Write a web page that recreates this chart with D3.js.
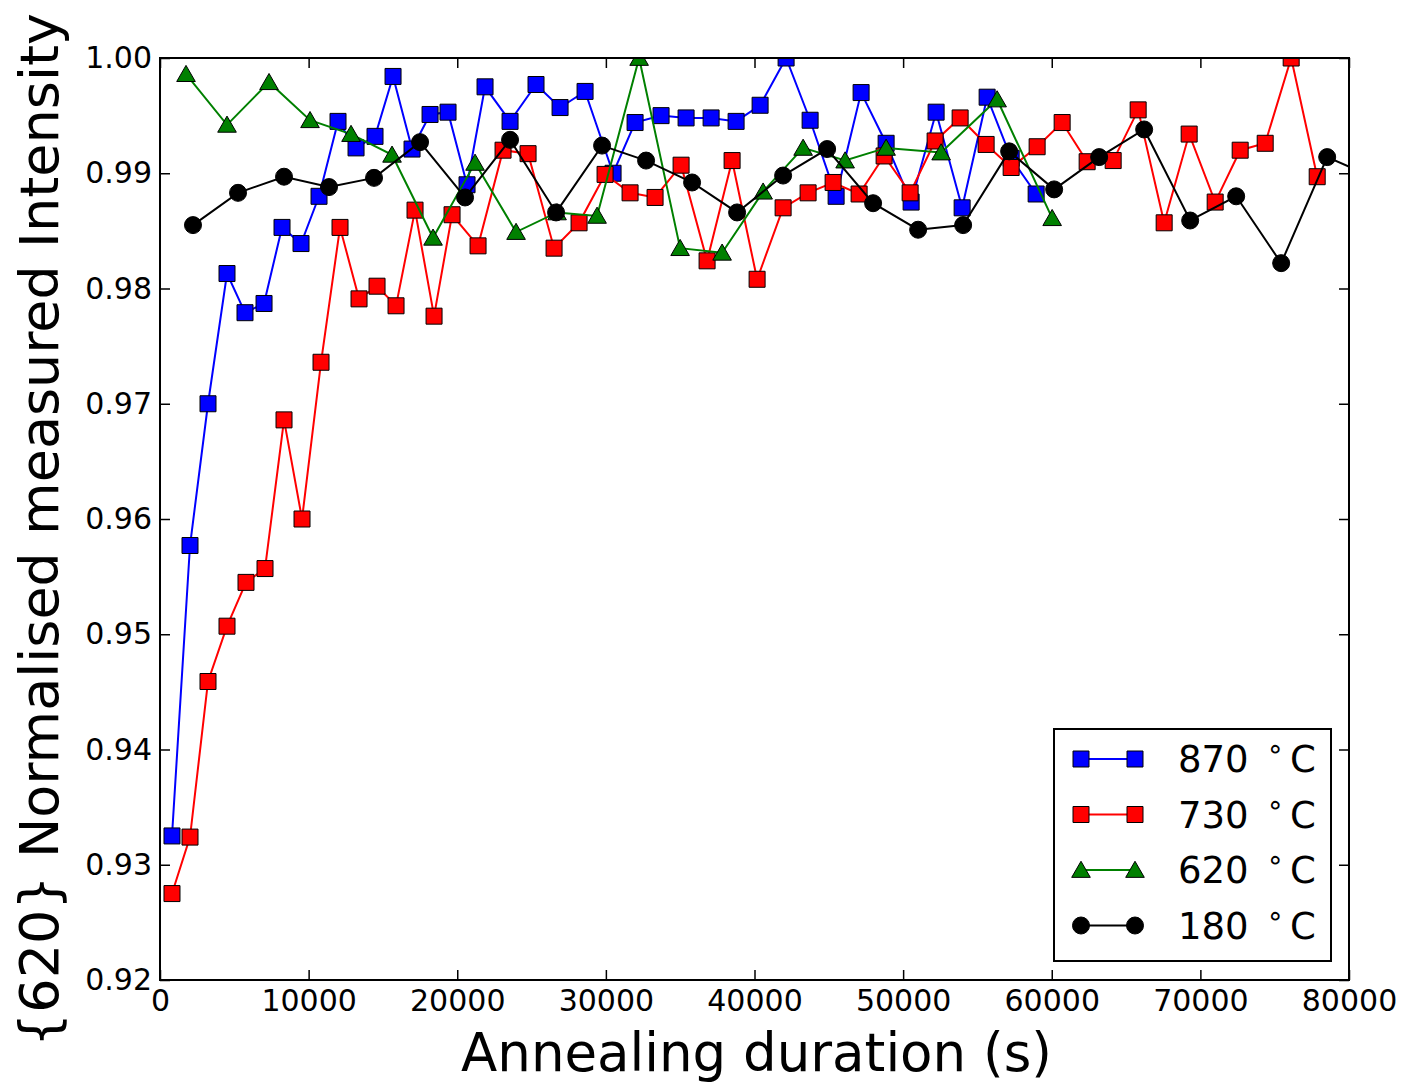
<!DOCTYPE html>
<html>
<head>
<meta charset="utf-8">
<script src="https://cdnjs.cloudflare.com/ajax/libs/d3/7.8.5/d3.min.js"></script>
<style>
  body { margin: 0; background: #fff; }
  svg text { font-family: "DejaVu Sans", sans-serif; fill: #000; }
</style>
</head>
<body>
<svg width="1407" height="1086"></svg>
<script>
// annealing durations (s) and normalised intensities
var t870 = [807, 2019, 3230, 4509, 5720, 7000, 8210, 9489, 10700, 11978, 13190, 14468, 15680, 16958, 18170, 19380,
            20659, 21870, 23553, 25300, 26918, 28600, 30484, 31965, 33714, 35397, 37080, 38762, 40377, 42126,
            43742, 45491, 47173, 48856, 50538, 52220, 53970, 55652, 57270, 58950];
var v870 = [0.9325, 0.9577, 0.9700, 0.9813, 0.9779, 0.9787, 0.9853, 0.9839, 0.9880, 0.9945, 0.9922, 0.9932, 0.9984, 0.9921, 0.9951, 0.9953,
            0.9890, 0.9975, 0.9945, 0.9977, 0.9957, 0.9971, 0.9900, 0.9944, 0.9950, 0.9948, 0.9948, 0.9945, 0.9959, 1.0000,
            0.9946, 0.9880, 0.9970, 0.9926, 0.9875, 0.9953, 0.9870, 0.9966, 0.9913, 0.9882];

var t730 = [807, 2019, 3230, 4509, 5787, 7066, 8345, 9556, 10834, 12113, 13392, 14603, 15882, 17160, 18439, 19650,
            21400, 23082, 24765, 26514, 28196, 29946, 31628, 33310, 35060, 36810, 38493, 40175, 41925, 43607,
            45290, 47039, 48721, 50471, 52153, 53836, 55585, 57268, 59017, 60700, 62382, 64132, 65814, 67564,
            69246, 70996, 72678, 74361, 76110, 77860];
var v730 = [0.9275, 0.9324, 0.9459, 0.9507, 0.9545, 0.9557, 0.9686, 0.9600, 0.9736, 0.9853, 0.9791, 0.9802, 0.9785, 0.9868, 0.9776, 0.9864,
            0.9837, 0.9920, 0.9917, 0.9835, 0.9857, 0.9899, 0.9883, 0.9879, 0.9907, 0.9824, 0.9911, 0.9808, 0.9870, 0.9883,
            0.9892, 0.9882, 0.9915, 0.9883, 0.9928, 0.9948, 0.9925, 0.9905, 0.9923, 0.9944, 0.9910, 0.9911, 0.9955, 0.9857,
            0.9934, 0.9875, 0.9920, 0.9926, 1.0000, 0.9897];

var t620 = [1750, 4509, 7335, 10094, 12853, 15612, 18371, 21198, 23957, 26716, 29408, 32236, 34995, 37821, 40580,
            43271, 46097, 48856, 52557, 56325, 60027];
var v620 = [0.9986, 0.9942, 0.9979, 0.9946, 0.9934, 0.9916, 0.9844, 0.9909, 0.9849, 0.9866, 0.9863, 1.0000, 0.9835, 0.9831, 0.9884,
            0.9922, 0.9911, 0.9922, 0.9918, 0.9964, 0.9861];

var t180 = [2220, 5250, 8345, 11373, 14401, 17497, 20525, 23553, 26649, 29744, 32705, 35800, 38829, 41925, 44886,
            47980, 51009, 54037, 57133, 60161, 63189, 66217, 69313, 72408, 75436, 78532, 81560];
var v180 = [0.9855, 0.9883, 0.9897, 0.9888, 0.9896, 0.9927, 0.9879, 0.9929, 0.9866, 0.9924, 0.9911, 0.9892, 0.9866, 0.9898, 0.9921,
            0.9874, 0.9851, 0.9855, 0.9919, 0.9886, 0.9914, 0.9938, 0.9859, 0.9880, 0.9822, 0.9914, 0.9897];

var labels = ["870", "730", "620", "180"];
var xTicks = [0, 10000, 20000, 30000, 40000, 50000, 60000, 70000, 80000];
var yTicks = [0.92, 0.93, 0.94, 0.95, 0.96, 0.97, 0.98, 0.99, 1.00];

var series = [
    { name: labels[0], t: t870, v: v870, color: "#0000ff", marker: "square" },
    { name: labels[1], t: t730, v: v730, color: "#ff0000", marker: "square" },
    { name: labels[2], t: t620, v: v620, color: "#008000", marker: "triangle" },
    { name: labels[3], t: t180, v: v180, color: "#000000", marker: "circle" }
];

var svg = d3.select("svg"),
    margin = { top: 58, right: 58, bottom: 106, left: 160 },
    width = +svg.attr("width") - margin.left - margin.right,
    height = +svg.attr("height") - margin.top - margin.bottom;

var x = d3.scaleLinear().domain([0, 80000]).range([0, width]),
    y = d3.scaleLinear().domain([0.92, 1.00]).range([height, 0]);

var g = svg.append("g").attr("transform", "translate(" + margin.left + "," + margin.top + ")");

g.append("clipPath").attr("id", "clip")
    .append("rect").attr("width", width).attr("height", height);

function markerPath(type) {
    if (type == "square") return d3.symbol().type(d3.symbolSquare).size(16 * 16)();
    if (type == "triangle") return d3.symbol().type(d3.symbolTriangle).size(150)();
    return d3.symbol().type(d3.symbolCircle).size(Math.PI * 8.5 * 8.5)();
}

var plot = g.append("g").attr("clip-path", "url(#clip)");

series.forEach(function(s) {
    var pts = s.t.map(function(t, i) { return [t, s.v[i]]; });
    var line = d3.line().x(function(d) { return x(d[0]); }).y(function(d) { return y(d[1]); });
    plot.append("path")
        .attr("d", line(pts))
        .attr("fill", "none")
        .attr("stroke", s.color)
        .attr("stroke-width", 2);
    plot.selectAll(null)
        .data(pts)
        .enter().append("path")
        .attr("d", markerPath(s.marker))
        .attr("transform", function(d) {
            var dy = s.marker == "triangle" ? 2 : 0;
            return "translate(" + x(d[0]) + "," + (y(d[1]) + dy) + ")";
        })
        .attr("fill", s.color)
        .attr("stroke", "#000")
        .attr("stroke-width", 1);
});

// ticks on all four sides, pointing inward
var tickLen = 10;
g.append("g")
    .attr("transform", "translate(0," + height + ")")
    .call(d3.axisBottom(x).tickValues(xTicks).tickSize(-tickLen).tickPadding(10).tickFormat(d3.format("d")))
    .call(function(a) { a.select(".domain").remove(); });
g.append("g")
    .call(d3.axisTop(x).tickValues(xTicks).tickSize(-tickLen).tickFormat(""))
    .call(function(a) { a.select(".domain").remove(); });
g.append("g")
    .call(d3.axisLeft(y).tickValues(yTicks).tickSize(-tickLen).tickPadding(8).tickFormat(d3.format(".2f")))
    .call(function(a) { a.select(".domain").remove(); });
g.append("g")
    .attr("transform", "translate(" + width + ",0)")
    .call(d3.axisRight(y).tickValues(yTicks).tickSize(-tickLen).tickFormat(""))
    .call(function(a) { a.select(".domain").remove(); });

g.selectAll(".tick line").attr("stroke", "#000").attr("stroke-width", 1.5);
g.selectAll(".tick text").style("font-size", "30px").style("font-family", "DejaVu Sans");

g.append("rect")
    .attr("width", width).attr("height", height)
    .attr("fill", "none").attr("stroke", "#000").attr("stroke-width", 2);

// axis titles
svg.append("text")
    .attr("x", margin.left + width / 2 + 2)
    .attr("y", 1071)
    .attr("text-anchor", "middle")
    .style("font-size", "53px")
    .text("Annealing duration (s)");

svg.append("text")
    .attr("transform", "translate(58," + (margin.top + height / 2 + 11) + ") rotate(-90)")
    .attr("text-anchor", "middle")
    .style("font-size", "54px")
    .text("{620} Normalised measured Intensity");

// legend
var legend = svg.append("g").attr("transform", "translate(1054,729)");
legend.append("rect")
    .attr("width", 277).attr("height", 232)
    .attr("fill", "#fff").attr("stroke", "#000").attr("stroke-width", 2);

series.forEach(function(s, i) {
    var row = legend.append("g").attr("transform", "translate(0," + (30 + i * 55.5) + ")");
    row.append("line")
        .attr("x1", 27).attr("x2", 81)
        .attr("stroke", s.color).attr("stroke-width", 2);
    [27, 81].forEach(function(mx) {
        row.append("path")
            .attr("d", markerPath(s.marker))
            .attr("transform", "translate(" + mx + "," + (s.marker == "triangle" ? 2 : 0) + ")")
            .attr("fill", s.color).attr("stroke", "#000").attr("stroke-width", 1);
    });
    var txt = row.append("text")
        .attr("x", 124).attr("y", 13)
        .style("font-size", "37px");
    txt.append("tspan").text(s.name + " ");
    txt.append("tspan").attr("dy", -14).attr("dx", 6).style("font-size", "28px").text("\u2218");
    txt.append("tspan").attr("dy", 14).attr("dx", 6).text("C");
});
</script>
</body>
</html>
